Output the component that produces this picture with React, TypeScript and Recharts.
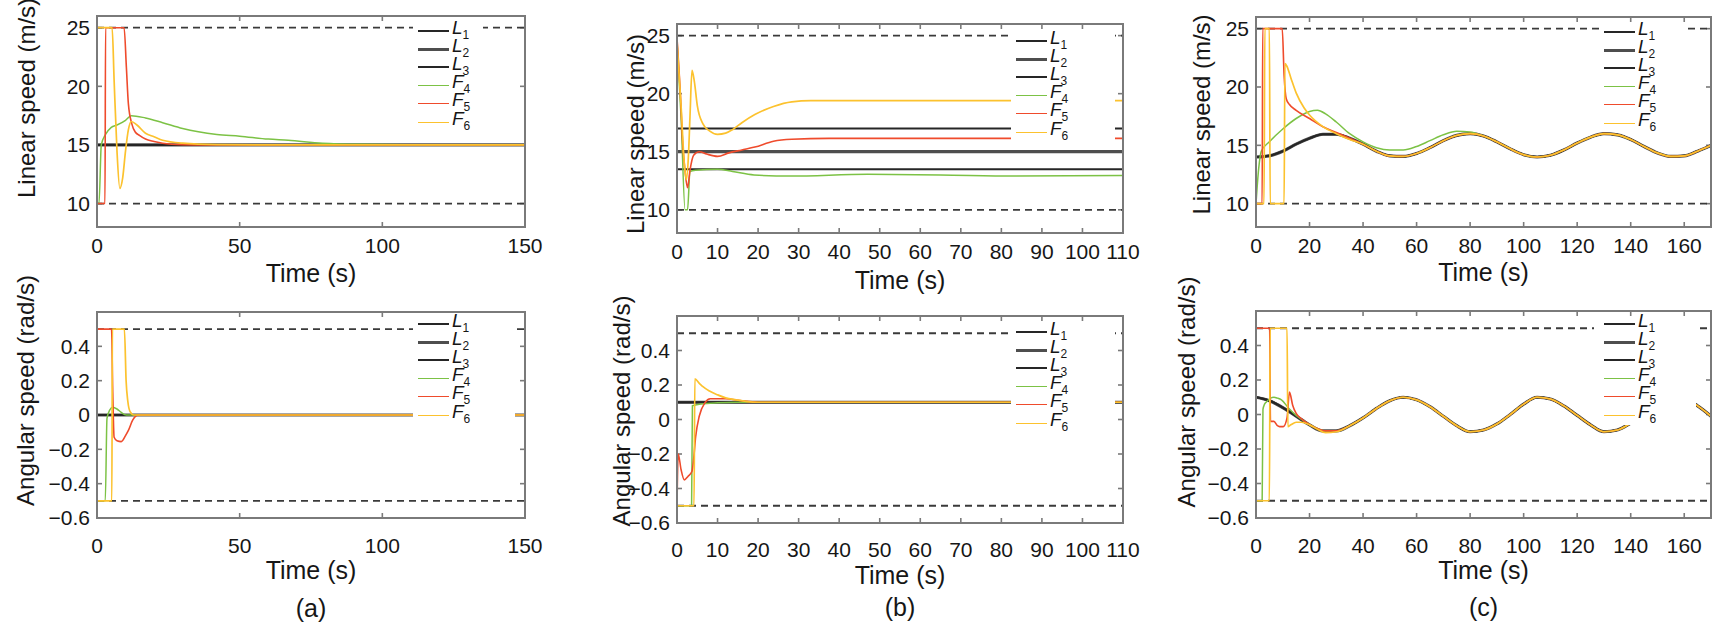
import React from 'react';
import { LineChart, Line, XAxis, YAxis, ReferenceLine, Legend } from 'recharts';

type Pt = [number, number];

const FONT = '"Liberation Sans", Arial, Helvetica, sans-serif';
const INK = '#161616';
const AXIS = '#7a7a7a';

// legend order: three leaders, three followers
const seriesNames = ['L1', 'L2', 'L3', 'F4', 'F5', 'F6'];
const seriesColors = ['#262626', '#4e4e4e', '#262626', '#7cc245', '#ef4b2c', '#fcc22e'];
const seriesWidths = [2, 3.2, 2, 1.5, 1.6, 1.7];

const ticksA = [0, 50, 100, 150];
const ticksB = [0, 10, 20, 30, 40, 50, 60, 70, 80, 90, 100, 110];
const ticksC = [0, 20, 40, 60, 80, 100, 120, 140, 160];
const linTicks = [10, 15, 20, 25];
const angTicks = [-0.6, -0.4, -0.2, 0, 0.2, 0.4];
const linLimits = [10, 25];
const angLimits = [-0.5, 0.5];

// (a) linear speed
const aLinL: Pt[] = [[0, 15], [150, 15]];
const aLinF4: Pt[] = [[0, 10], [0.7, 10], [1.5, 15], [3, 15.9], [5, 16.5], [7, 16.7], [10, 17.1], [12, 17.5], [17, 17.3], [23, 16.9], [30, 16.4], [42, 15.9], [50, 15.75], [60, 15.5], [67, 15.4], [79, 15.15], [92, 15.05], [117, 15], [150, 15]];
const aLinF5: Pt[] = [[0, 10], [2.8, 10], [3, 25], [9.5, 25], [10.3, 21.6], [11, 18.5], [12.2, 16.8], [13.4, 16.1], [15, 15.8], [17, 15.5], [20, 15.3], [23, 15.15], [30, 15.03], [40, 15], [150, 15]];
const aLinF6: Pt[] = [[0, 25], [5.3, 25], [6, 20.5], [7, 14.5], [8, 11.3], [9, 12.2], [10, 14.5], [11, 16.3], [12, 17], [14, 16.7], [17, 16], [20, 15.7], [23, 15.4], [30, 15.15], [42, 15.03], [60, 15], [150, 15]];

// (a) angular speed
const aAngL: Pt[] = [[0, 0], [150, 0]];
const aAngF4: Pt[] = [[0, -0.5], [2.9, -0.5], [3.5, -0.02], [4.5, 0.03], [5.5, 0.045], [7, 0.035], [8.5, 0.015], [10.3, 0], [150, 0]];
const aAngF5: Pt[] = [[0, 0.5], [5.1, 0.5], [5.5, 0.15], [6, -0.13], [7, -0.15], [8.5, -0.155], [10, -0.12], [11, -0.09], [12.5, -0.03], [14.5, 0], [150, 0]];
const aAngF6: Pt[] = [[0, -0.5], [5.2, -0.5], [5.4, 0.5], [9.6, 0.5], [10.2, 0.2], [10.8, 0.08], [11.6, 0.02], [13, 0], [150, 0]];

// (b) linear speed
const bLinL1: Pt[] = [[0, 17], [110, 17]];
const bLinL2: Pt[] = [[0, 15], [110, 15]];
const bLinL3: Pt[] = [[0, 13.5], [110, 13.5]];
const bLinF4: Pt[] = [[0, 24.5], [1, 18], [2, 10], [2.6, 10], [3.2, 13.3], [4.6, 13.4], [10, 13.5], [13.7, 13.3], [19, 13.0], [28, 12.9], [47, 13.05], [65, 13.0], [83, 12.9], [110, 12.95]];
const bLinF5: Pt[] = [[0, 24.8], [0.9, 19.5], [1.4, 15.7], [2, 13.3], [2.6, 11.9], [3.2, 13.4], [4.1, 14.7], [5.5, 15.0], [7.3, 14.8], [10, 14.6], [12.8, 14.9], [16, 15.15], [19.2, 15.4], [23.8, 15.9], [28.3, 16.07], [37.5, 16.15], [110, 16.15]];
const bLinF6: Pt[] = [[0, 24.5], [1, 19], [1.8, 14], [2.3, 12.6], [2.8, 14.5], [3.2, 18], [3.7, 22], [4.3, 21], [5, 19], [6.4, 17.4], [8, 16.8], [10, 16.5], [12, 16.6], [13.7, 16.9], [16, 17.5], [19.2, 18.2], [23.8, 18.9], [28.3, 19.3], [33, 19.4], [110, 19.4]];

// (b) angular speed
const bAngL: Pt[] = [[0, 0.1], [110, 0.1]];
const bAngF4: Pt[] = [[0, -0.5], [3.6, -0.5], [3.8, 0.08], [6, 0.09], [10, 0.097], [15, 0.1], [110, 0.1]];
const bAngF5: Pt[] = [[0, -0.5], [0.3, -0.2], [1, -0.29], [1.8, -0.35], [2.7, -0.33], [3.7, -0.3], [4.1, -0.23], [4.6, -0.1], [5.5, 0.02], [6.9, 0.097], [8.2, 0.12], [12, 0.12], [15.5, 0.11], [20, 0.1], [110, 0.1]];
const bAngF6: Pt[] = [[0, -0.5], [4.2, -0.5], [4.4, 0.235], [5.5, 0.21], [6.4, 0.19], [8, 0.165], [10, 0.143], [12, 0.125], [14.6, 0.114], [17, 0.105], [20, 0.1], [110, 0.1]];

// (c) linear speed
const cLinL: Pt[] = [[0, 14.0], [5, 14.1], [10, 14.5], [15, 15.1], [20, 15.6], [25, 15.95], [30, 15.95], [35, 15.6], [40, 15.1], [45, 14.5], [50, 14.1], [55, 14.05], [60, 14.3], [65, 14.8], [70, 15.4], [75, 15.85], [80, 16.0], [85, 15.8], [90, 15.3], [95, 14.7], [100, 14.2], [105, 14.0], [110, 14.15], [115, 14.6], [120, 15.2], [125, 15.7], [130, 16.0], [135, 15.9], [140, 15.5], [145, 14.9], [150, 14.35], [155, 14.05], [160, 14.1], [165, 14.5], [170, 15.0]];
const cLinF4Head: Pt[] = [[0, 10], [1, 13], [2, 14.5], [5, 15.3], [10, 16.4], [15, 17.3], [20, 17.9], [23, 18.0], [26, 17.7], [30, 17.0], [35, 16.0], [40, 15.3], [45, 14.8], [50, 14.6], [55, 14.6], [60, 14.9], [65, 15.4], [70, 15.9], [75, 16.2], [80, 16.15], [85, 15.8], [90, 15.3], [95, 14.7], [100, 14.2]];
const cLinF5Head: Pt[] = [[0, 10], [2.3, 10], [2.5, 25], [9.8, 25], [10.5, 21], [11.3, 19], [12.5, 18.5], [15, 18.0], [20, 17.3], [25, 16.6], [30, 16.1], [35, 15.6], [40, 15.1], [45, 14.5], [50, 14.1], [55, 14.05]];
const cLinF6Head: Pt[] = [[0, 10], [3, 10], [3.3, 25], [5, 25], [5.3, 10], [10.5, 10], [10.8, 22], [11.5, 21.8], [13, 20.8], [15, 19.5], [18, 18.2], [20, 17.6], [25, 16.6], [30, 16.0], [35, 15.5], [40, 15.1], [45, 14.5], [50, 14.1], [55, 14.05]];

// (c) angular speed
const cAngL: Pt[] = [[0, 0.1], [5, 0.08], [10, 0.04], [15, -0.01], [20, -0.06], [25, -0.095], [30, -0.095], [35, -0.065], [40, -0.02], [45, 0.035], [50, 0.08], [55, 0.1], [60, 0.085], [65, 0.045], [70, -0.01], [75, -0.065], [80, -0.1], [85, -0.09], [90, -0.055], [95, 0.0], [100, 0.06], [105, 0.1], [110, 0.09], [115, 0.05], [120, -0.005], [125, -0.06], [130, -0.1], [135, -0.09], [140, -0.05], [145, 0.0], [150, 0.055], [155, 0.095], [160, 0.09], [165, 0.05], [170, -0.01]];
const cAngF4Head: Pt[] = [[0, -0.5], [2.3, -0.5], [2.6, 0.03], [3.2, 0.06], [3.9, 0.073], [5, 0.09], [6.7, 0.1], [8, 0.095], [9.5, 0.085], [12.3, 0.035], [15, -0.005], [19.2, -0.05], [22, -0.075], [26, -0.095], [30, -0.095]];
const cAngF5Head: Pt[] = [[0, 0.5], [5.1, 0.5], [5.4, -0.04], [6.7, -0.04], [8, -0.065], [8.8, -0.07], [10.2, -0.07], [11.6, -0.02], [12.5, 0.13], [13.7, 0.054], [15, 0.006], [17, -0.025], [19.2, -0.05], [22, -0.075], [26, -0.095], [30, -0.095]];
const cAngF6Head: Pt[] = [[0, -0.5], [5, -0.5], [5.3, 0.5], [11.6, 0.5], [11.9, -0.07], [13, -0.06], [15, -0.045], [17, -0.045], [20, -0.06], [23, -0.085], [26, -0.105], [30, -0.1]];

// followers settle onto the leader curve in (c)
const after = (pts: Pt[], from: number) => pts.filter((p) => p[0] >= from);
const cLinF4 = [...cLinF4Head, ...after(cLinL, 105)];
const cLinF5 = [...cLinF5Head, ...after(cLinL, 60)];
const cLinF6 = [...cLinF6Head, ...after(cLinL, 60)];
const cAngF4 = [...cAngF4Head, ...after(cAngL, 35)];
const cAngF5 = [...cAngF5Head, ...after(cAngL, 35)];
const cAngF6 = [...cAngF6Head, ...after(cAngL, 35)];

const toRows = (pts: Pt[]) => pts.map(([t, v]) => ({ t, v }));

const Y_W = 95;
const ROW = 18.2;
const TICK = 5;

const fmtAng = (v: number) => (v === 0 ? '0' : (v < 0 ? '\u2212' : '') + Math.abs(v).toFixed(1));

interface LegendSpec { l: number; r: number; top: number; row: number; pad: number }

interface PanelProps {
  left: number;
  top: number;
  plotW: number;
  plotH: number;
  topM: number;
  xH: number;
  xMax: number;
  xTicks: number[];
  kind: 'lin' | 'ang';
  series: Pt[][];
  yGap: number;
  tickGap: number;
  titleDy: number;
  caption?: string;
  captionDy?: number;
  legend: LegendSpec;
}

const LegendBox = ({ w, h, rowTop, lineX }: { w: number; h: number; rowTop: number; lineX: number }) => (
  <div style={{ width: w, height: h, background: '#fff', position: 'relative' }}>
    {seriesNames.map((n, i) => (
      <div
        key={n}
        style={{ position: 'absolute', left: lineX, top: rowTop + i * ROW - 11, height: 18, display: 'flex', alignItems: 'center' }}
      >
        <div style={{ width: 31, height: 0, borderTop: `${seriesWidths[i]}px solid ${seriesColors[i]}` }} />
        <span style={{ marginLeft: 3, fontFamily: FONT, fontSize: 19, color: INK, lineHeight: '18px', whiteSpace: 'nowrap' }}>
          <span style={{ fontStyle: 'italic' }}>{n[0]}</span>
          <span style={{ fontSize: 12, verticalAlign: -5 }}>{n[1]}</span>
        </span>
      </div>
    ))}
  </div>
);

function Panel(p: PanelProps) {
  const lin = p.kind === 'lin';
  const yDomain = lin ? [8, 26] : [-0.6, 0.6];
  const [yMin, yMax] = yDomain;
  const yTicks = lin ? linTicks : angTicks;
  const limits = lin ? linLimits : angLimits;
  const width = Y_W + p.plotW + 4;
  const height = p.topM + p.plotH + p.xH;
  const boxW = p.legend.l - p.legend.r;
  const boxH = p.legend.row - p.legend.top + 5 * ROW + p.legend.pad;
  const cx = Y_W + p.plotW / 2;
  const axisY = p.topM + p.plotH;
  const yTitle = lin ? 'Linear speed (m/s)' : 'Angular speed (rad/s)';
  const ycx = Y_W - p.yGap;
  const ycy = p.topM + p.plotH / 2;
  // inward tick length expressed in axis units
  const dy = (TICK * (yMax - yMin)) / p.plotH;
  const dx = (TICK * p.xMax) / p.plotW;

  const tickStyle = { fill: INK, fontSize: 21, fontFamily: FONT };

  return (
    <div style={{ position: 'absolute', left: p.left - Y_W, top: p.top - p.topM, width, height }}>
      <LineChart width={width} height={height} margin={{ top: p.topM, right: 4, bottom: 0, left: 0 }}>
        <XAxis
          dataKey="t"
          type="number"
          domain={[0, p.xMax]}
          ticks={p.xTicks}
          interval={0}
          height={p.xH}
          axisLine={false}
          tickLine={false}
          tickSize={0}
          tickMargin={p.tickGap}
          tick={tickStyle}
          label={
            <g>
              <text x={cx} y={axisY + p.titleDy} textAnchor="middle" dominantBaseline="central" fill={INK} fontSize={25} fontFamily={FONT}>
                Time (s)
              </text>
              {p.caption && (
                <text x={cx} y={axisY + (p.captionDy || 90)} textAnchor="middle" dominantBaseline="central" fill={INK} fontSize={25} fontFamily={FONT}>
                  {p.caption}
                </text>
              )}
            </g>
          }
        />
        <YAxis
          type="number"
          domain={yDomain}
          ticks={yTicks}
          interval={0}
          width={Y_W}
          axisLine={false}
          tickLine={false}
          tickSize={0}
          tickMargin={7}
          tick={tickStyle}
          tickFormatter={lin ? (v: number) => String(v) : fmtAng}
          label={
            <text x={ycx} y={ycy} transform={`rotate(-90 ${ycx} ${ycy})`} textAnchor="middle" dominantBaseline="central" fill={INK} fontSize={24} fontFamily={FONT}>
              {yTitle}
            </text>
          }
        />
        {/* inward tick marks on all four sides */}
        {p.xTicks.map((t) => (
          <ReferenceLine key={`xb${t}`} segment={[{ x: t, y: yMin }, { x: t, y: yMin + dy }]} stroke={AXIS} strokeWidth={1.6} />
        ))}
        {p.xTicks.map((t) => (
          <ReferenceLine key={`xt${t}`} segment={[{ x: t, y: yMax - dy }, { x: t, y: yMax }]} stroke={AXIS} strokeWidth={1.6} />
        ))}
        {yTicks.map((v) => (
          <ReferenceLine key={`yl${v}`} segment={[{ x: 0, y: v }, { x: dx, y: v }]} stroke={AXIS} strokeWidth={1.6} />
        ))}
        {yTicks.map((v) => (
          <ReferenceLine key={`yr${v}`} segment={[{ x: p.xMax - dx, y: v }, { x: p.xMax, y: v }]} stroke={AXIS} strokeWidth={1.6} />
        ))}
        {limits.map((v) => (
          <ReferenceLine key={v} y={v} stroke="#3a3a3a" strokeWidth={1.8} strokeDasharray="7 5" />
        ))}
        {p.series.map((pts, i) => (
          <Line
            key={seriesNames[i]}
            name={seriesNames[i]}
            data={toRows(pts)}
            dataKey="v"
            type="monotone"
            dot={false}
            activeDot={false}
            isAnimationActive={false}
            stroke={seriesColors[i]}
            strokeWidth={seriesWidths[i]}
          />
        ))}
        <Legend
          layout="horizontal"
          verticalAlign="middle"
          align="center"
          wrapperStyle={{ left: Y_W + p.plotW - p.legend.l, top: p.topM + p.legend.top, width: boxW, height: boxH }}
          content={() => <LegendBox w={boxW} h={boxH} rowTop={p.legend.row - p.legend.top} lineX={p.legend.l - 107} />}
        />
      </LineChart>
      {/* axes box drawn over the plot area, like MATLAB's box on */}
      <div
        style={{
          position: 'absolute',
          left: Y_W - 1,
          top: p.topM - 1,
          width: p.plotW + 2,
          height: p.plotH + 2,
          border: `2px solid ${AXIS}`,
          boxSizing: 'border-box',
          pointerEvents: 'none',
        }}
      />
    </div>
  );
}

const panels: (PanelProps & { id: string })[] = [
  {
    id: 'a-lin', left: 97, top: 16, plotW: 428, plotH: 211, topM: 15, xH: 60, xMax: 150, xTicks: ticksA, kind: 'lin',
    series: [aLinL, aLinL, aLinL, aLinF4, aLinF5, aLinF6], yGap: 71, tickGap: 11, titleDy: 46,
    legend: { l: 112, r: 42, top: 8, row: 17, pad: 8 },
  },
  {
    id: 'a-ang', left: 97, top: 312, plotW: 428, plotH: 206, topM: 40, xH: 100, xMax: 150, xTicks: ticksA, kind: 'ang',
    series: [aAngL, aAngL, aAngL, aAngF4, aAngF5, aAngF6], yGap: 72, tickGap: 20, titleDy: 52, caption: '(a)', captionDy: 90,
    legend: { l: 112, r: 10, top: 5, row: 14, pad: 9 },
  },
  {
    id: 'b-lin', left: 677, top: 24, plotW: 446, plotH: 209, topM: 15, xH: 60, xMax: 110, xTicks: ticksB, kind: 'lin',
    series: [bLinL1, bLinL2, bLinL3, bLinF4, bLinF5, bLinF6], yGap: 42, tickGap: 11, titleDy: 47,
    legend: { l: 112, r: 8, top: 9, row: 19, pad: 9 },
  },
  {
    id: 'b-ang', left: 677, top: 316, plotW: 446, plotH: 207, topM: 40, xH: 100, xMax: 110, xTicks: ticksB, kind: 'ang',
    series: [bAngL, bAngL, bAngL, bAngF4, bAngF5, bAngF6], yGap: 56, tickGap: 19, titleDy: 52, caption: '(b)', captionDy: 84,
    legend: { l: 112, r: 8, top: 9, row: 18, pad: 9 },
  },
  {
    id: 'c-lin', left: 1256, top: 17, plotW: 455, plotH: 210, topM: 15, xH: 60, xMax: 170, xTicks: ticksC, kind: 'lin',
    series: [cLinL, cLinL, cLinL, cLinF4, cLinF5, cLinF6], yGap: 55, tickGap: 11, titleDy: 45,
    legend: { l: 112, r: 26, top: 8, row: 17, pad: 4 },
  },
  {
    id: 'c-ang', left: 1256, top: 311, plotW: 455, plotH: 207, topM: 40, xH: 100, xMax: 170, xTicks: ticksC, kind: 'ang',
    series: [cAngL, cAngL, cAngL, cAngF4, cAngF5, cAngF6], yGap: 70, tickGap: 20, titleDy: 52, caption: '(c)', captionDy: 89,
    legend: { l: 117, r: 15, top: 5, row: 15, pad: 8 },
  },
];

export default function App() {
  return (
    <div style={{ position: 'absolute', left: 0, top: 0, width: 1715, height: 626, background: '#fff', overflow: 'hidden', fontFamily: FONT }}>
      <style>{'.recharts-surface{overflow:visible}'}</style>
      {panels.map(({ id, ...p }) => (
        <Panel key={id} {...p} />
      ))}
    </div>
  );
}
